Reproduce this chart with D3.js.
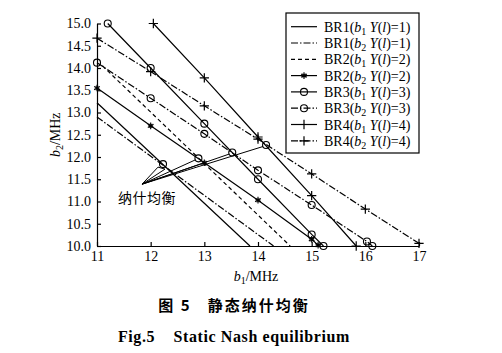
<!DOCTYPE html>
<html lang="zh">
<head>
    <meta charset="UTF-8">
    <title>Static Nash equilibrium</title>
    <script src="https://d3js.org/d3.v7.min.js"></script>
    <style>
        body { margin: 0; background: #fff; }
        svg { font-family: "Liberation Serif", "Times New Roman", serif; }
        .series { fill: none; stroke: #000; stroke-width: 1.2; }
        .axis path, .axis line { stroke: #000; stroke-width: 1.2; }
        .axis text { font-family: "Liberation Serif", serif; font-size: 14px; fill: #000; }
    </style>
</head>
<body>
<div id="chart"></div>
<script>
    // best response curves [b1, b2]
    var br1b1 = [[11, 13.22], [13.85, 10]];
    var br1b2 = [[11, 12.9], [14.29, 10]];
    var br2b1 = [[11.1, 14.05], [14.6, 10]];
    var br2b2 = [[11, 13.55], [12, 12.7], [13, 11.87], [14, 11.03], [15, 10.15], [15.12, 10.02]];
    var br3b1 = [[11.2, 15], [12, 14], [13, 12.75], [14, 11.5], [15, 10.26], [15.22, 10]];
    var br3b2 = [[11, 14.12], [12, 13.32], [13, 12.52], [14, 11.7], [15, 10.92], [16.03, 10.1], [16.13, 10]];
    var br4b1 = [[12.05, 15], [13, 13.78], [14, 12.45], [15, 11.13], [15.83, 10]];
    var br4b2 = [[11, 14.67], [12, 13.92], [13, 13.15], [14, 12.4], [15, 11.62], [16, 10.83], [17, 10.06]];

    var nashPoints = [[12.23, 11.84], [12.89, 11.97], [13.52, 12.1], [14.15, 12.27]];
    var nashLabelAt = [11.84, 11.39];

    var xTicks = [11, 12, 13, 14, 15, 16, 17];
    var yTicks = [10, 10.5, 11, 11.5, 12, 12.5, 13, 13.5, 14, 14.5, 15];

    var legendNames = ["BR1", "BR1", "BR2", "BR2", "BR3", "BR3", "BR4", "BR4"];
    var legendSubs = ["1", "2", "1", "2", "1", "2", "1", "2"];
    var legendY = ["1", "1", "2", "2", "3", "3", "4", "4"];

    var DASHDOT = "7,2,1.5,2";
    var DASHED = "4,3";
    var series = [
        {pts: br1b1, dash: null, marker: null},
        {pts: br1b2, dash: DASHDOT, marker: null},
        {pts: br2b1, dash: DASHED, marker: null},
        {pts: br2b2, dash: null, marker: "asterisk"},
        {pts: br3b1, dash: null, marker: "circle"},
        {pts: br3b2, dash: DASHDOT, marker: "circle"},
        {pts: br4b1, dash: null, marker: "plus"},
        {pts: br4b2, dash: DASHDOT, marker: "plus"}
    ];

    var W = 502, H = 353;
    var plot = {left: 97, right: 419, top: 23.5, bottom: 246};

    var svg = d3.select("#chart").append("svg")
        .attr("width", W)
        .attr("height", H);

    var x = d3.scaleLinear().domain([11, 17]).range([plot.left, plot.right]);
    var y = d3.scaleLinear().domain([10, 15]).range([plot.bottom, plot.top]);

    // axes, ticks pointing inward
    svg.append("g")
        .attr("class", "axis")
        .attr("transform", "translate(0," + plot.bottom + ")")
        .call(d3.axisBottom(x).tickValues(xTicks).tickFormat(d3.format("d"))
            .tickSizeInner(-4).tickSizeOuter(0).tickPadding(5));

    svg.append("g")
        .attr("class", "axis")
        .attr("transform", "translate(" + plot.left + ",0)")
        .call(d3.axisLeft(y).tickValues(yTicks).tickFormat(d3.format(".1f"))
            .tickSizeInner(-4).tickSizeOuter(0).tickPadding(6));

    var line = d3.line()
        .x(function(d) { return x(d[0]); })
        .y(function(d) { return y(d[1]); });

    function drawMarker(g, type, cx, cy) {
        if (type === "circle") {
            g.append("circle").attr("cx", cx).attr("cy", cy).attr("r", 3.5)
                .attr("fill", "none").attr("stroke", "#000").attr("stroke-width", 1.1);
        } else if (type === "plus") {
            g.append("path").attr("transform", "translate(" + cx + "," + cy + ")")
                .attr("d", d3.symbol(d3.symbolPlus, 30)())
                .attr("fill", "none").attr("stroke", "#000").attr("stroke-width", 1.2);
        } else if (type === "asterisk") {
            g.append("path").attr("transform", "translate(" + cx + "," + cy + ")")
                .attr("d", d3.symbol(d3.symbolAsterisk, 30)())
                .attr("fill", "none").attr("stroke", "#000").attr("stroke-width", 1.1);
            g.append("path").attr("transform", "translate(" + cx + "," + cy + ") rotate(90)")
                .attr("d", d3.symbol(d3.symbolAsterisk, 16)())
                .attr("fill", "none").attr("stroke", "#000").attr("stroke-width", 0.9);
        }
    }

    var curves = svg.append("g");
    series.forEach(function(s) {
        curves.append("path")
            .datum(s.pts)
            .attr("class", "series")
            .attr("stroke-dasharray", s.dash)
            .attr("d", line);
        if (s.marker) {
            s.pts.forEach(function(p) { drawMarker(curves, s.marker, x(p[0]), y(p[1])); });
        }
    });

    // Nash equilibrium points and the pointer lines
    var ann = svg.append("g").attr("stroke", "#000").attr("fill", "none").attr("stroke-width", 1);
    var ox = x(nashLabelAt[0]), oy = y(nashLabelAt[1]);
    nashPoints.forEach(function(p, i) {
        var px = x(p[0]), py = y(p[1]);
        drawMarker(ann, "circle", px, py);
        if (i === 0) {
            ann.append("path")
                .attr("d", "M" + ox + "," + oy + "L" + (px - 5) + "," + (py + 3) +
                    "L" + (px + 2) + "," + (py + 5) + "Z");
        } else {
            ann.append("line")
                .attr("x1", ox).attr("y1", oy)
                .attr("x2", px - 3).attr("y2", py + 1.5);
        }
    });
    // extra pointer to the BR2 crossing
    ann.append("line")
        .attr("x1", ox).attr("y1", oy)
        .attr("x2", x(br2b2[2][0])).attr("y2", y(br2b2[2][1]));

    svg.append("text")
        .attr("x", ox - 24)
        .attr("y", oy + 19)
        .attr("font-family", "Noto Sans CJK SC")
        .attr("font-size", 14)
        .attr("letter-spacing", 0.5)
        .text("纳什均衡");

    // legend
    var lg = svg.append("g");
    lg.append("rect")
        .attr("x", 286).attr("y", 13)
        .attr("width", 133).attr("height", 140)
        .attr("fill", "#fff").attr("stroke", "#000").attr("stroke-width", 1.2);

    series.forEach(function(s, i) {
        var ly = 26.7 + i * 16.3;
        lg.append("line")
            .attr("x1", 291).attr("x2", 317)
            .attr("y1", ly).attr("y2", ly)
            .attr("stroke", "#000").attr("stroke-width", 1.2)
            .attr("stroke-dasharray", s.dash);
        if (s.marker) drawMarker(lg, s.marker, 304, ly);
        var t = lg.append("text")
            .attr("x", 324).attr("y", ly + 5)
            .attr("font-size", 14);
        t.append("tspan").text(legendNames[i] + "(");
        t.append("tspan").attr("font-style", "italic").text("b");
        t.append("tspan").attr("font-size", 10).attr("dy", 3).text(legendSubs[i]);
        t.append("tspan").attr("dy", -3).attr("font-style", "italic").text(" Y");
        t.append("tspan").text("(");
        t.append("tspan").attr("font-style", "italic").text("l");
        t.append("tspan").text(")=" + legendY[i] + ")");
    });

    // axis titles
    var xl = svg.append("text")
        .attr("x", 256).attr("y", 281)
        .attr("text-anchor", "middle")
        .attr("font-size", 14);
    xl.append("tspan").attr("font-style", "italic").text("b");
    xl.append("tspan").attr("font-size", 10).attr("dy", 3).text("1");
    xl.append("tspan").attr("dy", -3).text("/MHz");

    var yl = svg.append("text")
        .attr("transform", "translate(60," + ((plot.top + plot.bottom) / 2) + ") rotate(-90)")
        .attr("text-anchor", "middle")
        .attr("font-size", 14);
    yl.append("tspan").attr("font-style", "italic").text("b");
    yl.append("tspan").attr("font-size", 10).attr("dy", 3).text("2");
    yl.append("tspan").attr("dy", -3).text("/MHz");

    // captions
    svg.append("text")
        .attr("x", 234).attr("y", 311)
        .attr("text-anchor", "middle")
        .attr("font-family", "Noto Sans CJK SC")
        .attr("font-weight", "bold")
        .attr("font-size", 15)
        .attr("letter-spacing", 2)
        .attr("xml:space", "preserve")
        .text("图 5   静态纳什均衡");

    svg.append("text")
        .attr("x", 234).attr("y", 342)
        .attr("text-anchor", "middle")
        .attr("font-weight", "bold")
        .attr("font-size", 16)
        .attr("letter-spacing", 0.6)
        .attr("xml:space", "preserve")
        .text("Fig.5    Static Nash equilibrium");
</script>
</body>
</html>
